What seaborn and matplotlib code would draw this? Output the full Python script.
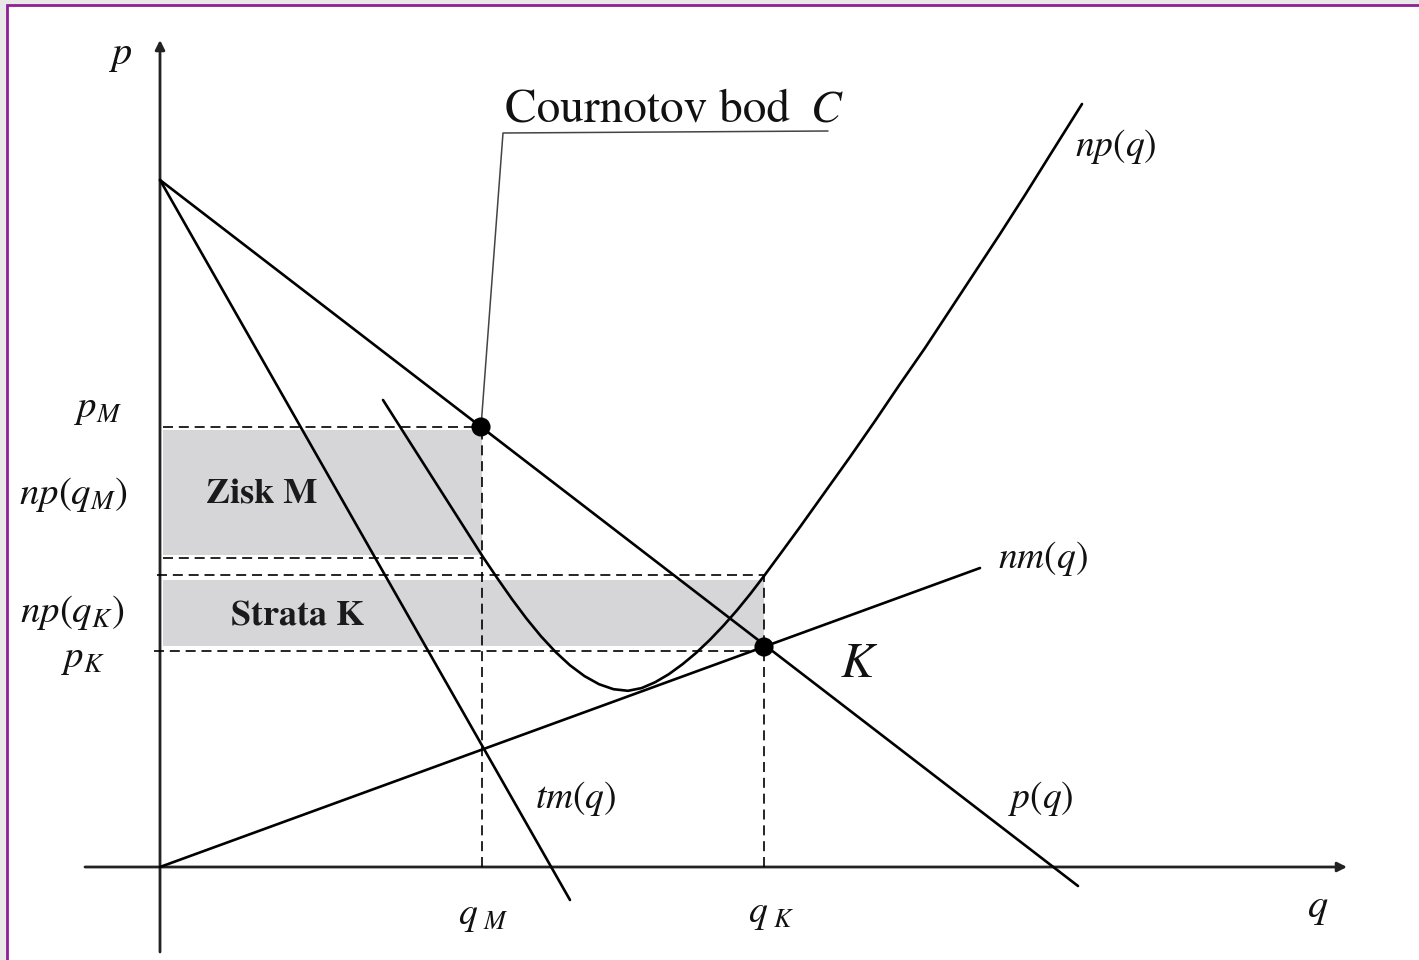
import numpy as np
import pandas as pd
import matplotlib
matplotlib.use("Agg")
import matplotlib.pyplot as plt
from matplotlib.patches import Rectangle
import seaborn as sns

# ---------------- data (diagram units) ----------------
q_M, q_K = 3.22, 6.04
p_M, np_qM, np_qK, p_K = 4.40, 3.09, 2.92, 2.18

# demand p(q)
demand_q = [0.0, 9.18]
demand_p = [6.87, -0.19]
# marginal revenue tm(q)
tm_q = [0.0, 4.10]
tm_p = [6.87, -0.33]
# marginal cost nm(q)
nm_q = [0.0, 8.20]
nm_p = [0.0, 2.99]
# average cost np(q)
ac_q = [2.23, 2.73, 3.23, 3.375, 3.52, 3.665, 3.81, 3.955, 4.10, 4.245, 4.39,
        4.535, 4.68, 4.816, 4.952, 5.088, 5.224, 5.36, 5.496, 5.632, 5.768,
        5.904, 6.04, 6.20, 6.40, 6.65, 6.90, 7.15, 7.40, 7.65, 7.90, 8.15,
        8.40, 8.65, 8.90, 9.22]
ac_p = [4.67, 3.885, 3.10, 2.885, 2.678, 2.484, 2.307, 2.151, 2.017, 1.909,
        1.828, 1.778, 1.762, 1.789, 1.848, 1.928, 2.027, 2.14, 2.269, 2.411,
        2.565, 2.732, 2.91, 3.127, 3.40, 3.75, 4.10, 4.46, 4.83, 5.19, 5.57,
        5.95, 6.33, 6.72, 7.12, 7.63]

# labels: (text, q, p, ha, va, size)
curve_labels = [
    (r"$np(q)$", 9.15, 7.21, "left", "center", 27),
    (r"$nm(q)$", 8.38, 3.09, "left", "center", 27),
    (r"$p(q)$", 8.48, 0.68, "left", "center", 27),
    (r"$tm(q)$", 3.75, 0.68, "left", "center", 27),
    (r"$K$", 6.80, 2.02, "left", "center", 36),
    (r"$p$", -0.40, 8.12, "center", "center", 29),
    (r"$q$", 11.58, -0.41, "center", "center", 29),
    (r"$q_{\ M}$", 2.98, -0.50, "left", "center", 27),
    (r"$q_{\ K}$", 5.88, -0.48, "left", "center", 27),
    (r"$p_M$", -0.38, 4.57, "right", "center", 28),
    (r"$np(q_M)$", -0.32, 3.73, "right", "center", 28),
    (r"$np(q_K)$", -0.36, 2.55, "right", "center", 28),
    (r"$p_K$", -0.55, 2.07, "right", "center", 28),
]
area_labels = [("Zisk M", 1.02, 3.72), ("Strata K", 1.38, 2.50)]

# ---------------- style ----------------
sns.set_theme(style="white")
plt.rcParams["font.family"] = ["STIXGeneral", "DejaVu Serif"]
plt.rcParams["mathtext.fontset"] = "stix"

fig = plt.figure(figsize=(14.19, 9.6), dpi=100, facecolor="#e9e9e9")
ax = fig.add_axes([0, 0, 1, 1])
ax.set_xlim(-1.60, 12.59)
ax.set_ylim(-0.93, 8.67)
ax.axis("off")
ax.patch.set_alpha(0)
# page frame
ax.add_patch(Rectangle((7 / 1419, -0.1), 1.2, (960 - 5) / 960 + 0.1,
                       transform=fig.transFigure, facecolor="white",
                       edgecolor="#8e1f96", lw=2.0, zorder=0, clip_on=False))

shade = "#d6d6d8"
ax.fill_between([0.03, q_M], np_qM + 0.03, p_M - 0.03, color=shade, lw=0, zorder=1)
ax.fill_between([0.03, q_K], p_K + 0.03, np_qK - 0.05, color=shade, lw=0, zorder=1)

# axes with arrows
ax.annotate("", xy=(0, 8.27), xytext=(0, -0.85),
            arrowprops=dict(arrowstyle="-|>", lw=2.0, color="#222222", mutation_scale=14,
                            shrinkA=0, shrinkB=0), zorder=2)
ax.annotate("", xy=(11.87, 0), xytext=(-0.75, 0),
            arrowprops=dict(arrowstyle="-|>", lw=2.0, color="#222222", mutation_scale=14,
                            shrinkA=0, shrinkB=0), zorder=2)

# dashed guides
dk = dict(color="black", lw=1.2, dashes=(6, 3.5), zorder=2)
ax.plot([0.03, q_M], [p_M, p_M], **dk)
ax.plot([0.03, q_M], [np_qM, np_qM], **dk)
ax.plot([-0.03, q_K], [np_qK, np_qK], **dk)
ax.plot([-0.06, q_K], [p_K - 0.02, p_K - 0.02], **dk)
ax.plot([q_M, q_M], [0, p_M], **dk)
ax.plot([q_K, q_K], [0, np_qK], **dk)

# curves
lw = 1.9
sns.lineplot(x=demand_q, y=demand_p, ax=ax, color="black", lw=lw, zorder=3)
sns.lineplot(x=tm_q, y=tm_p, ax=ax, color="black", lw=lw, zorder=3)
sns.lineplot(x=nm_q, y=nm_p, ax=ax, color="black", lw=lw, zorder=3)
ac = pd.DataFrame({"q": ac_q, "p": ac_p})
sns.lineplot(data=ac, x="q", y="p", ax=ax, color="black", lw=lw, sort=False, zorder=3)

# points
sns.scatterplot(x=[q_M - 0.01, q_K], y=[p_M, p_K + 0.02], ax=ax, color="black",
                s=190, edgecolor="none", zorder=4)

# Cournot leader line and label
ax.plot([q_M - 0.01, 3.43, 6.68], [p_M, 7.34, 7.36], color="#444444", lw=1.1, zorder=3)
ax.text(3.45, 7.46, "Cournotov bod", fontsize=34, ha="left", va="baseline", color="#111111")
ax.text(6.50, 7.46, r"$C$", fontsize=33, ha="left", va="baseline", color="#111111")

for t, x, y, ha, va, fs in curve_labels:
    ax.text(x, y, t, fontsize=fs, ha=ha, va=va, color="#111111")
for t, x, y in area_labels:
    ax.text(x, y, t, fontsize=26, ha="center", va="center", fontweight="bold",
            color="#1a1a1a")

fig.savefig("out.png", dpi=100, facecolor=fig.get_facecolor())
